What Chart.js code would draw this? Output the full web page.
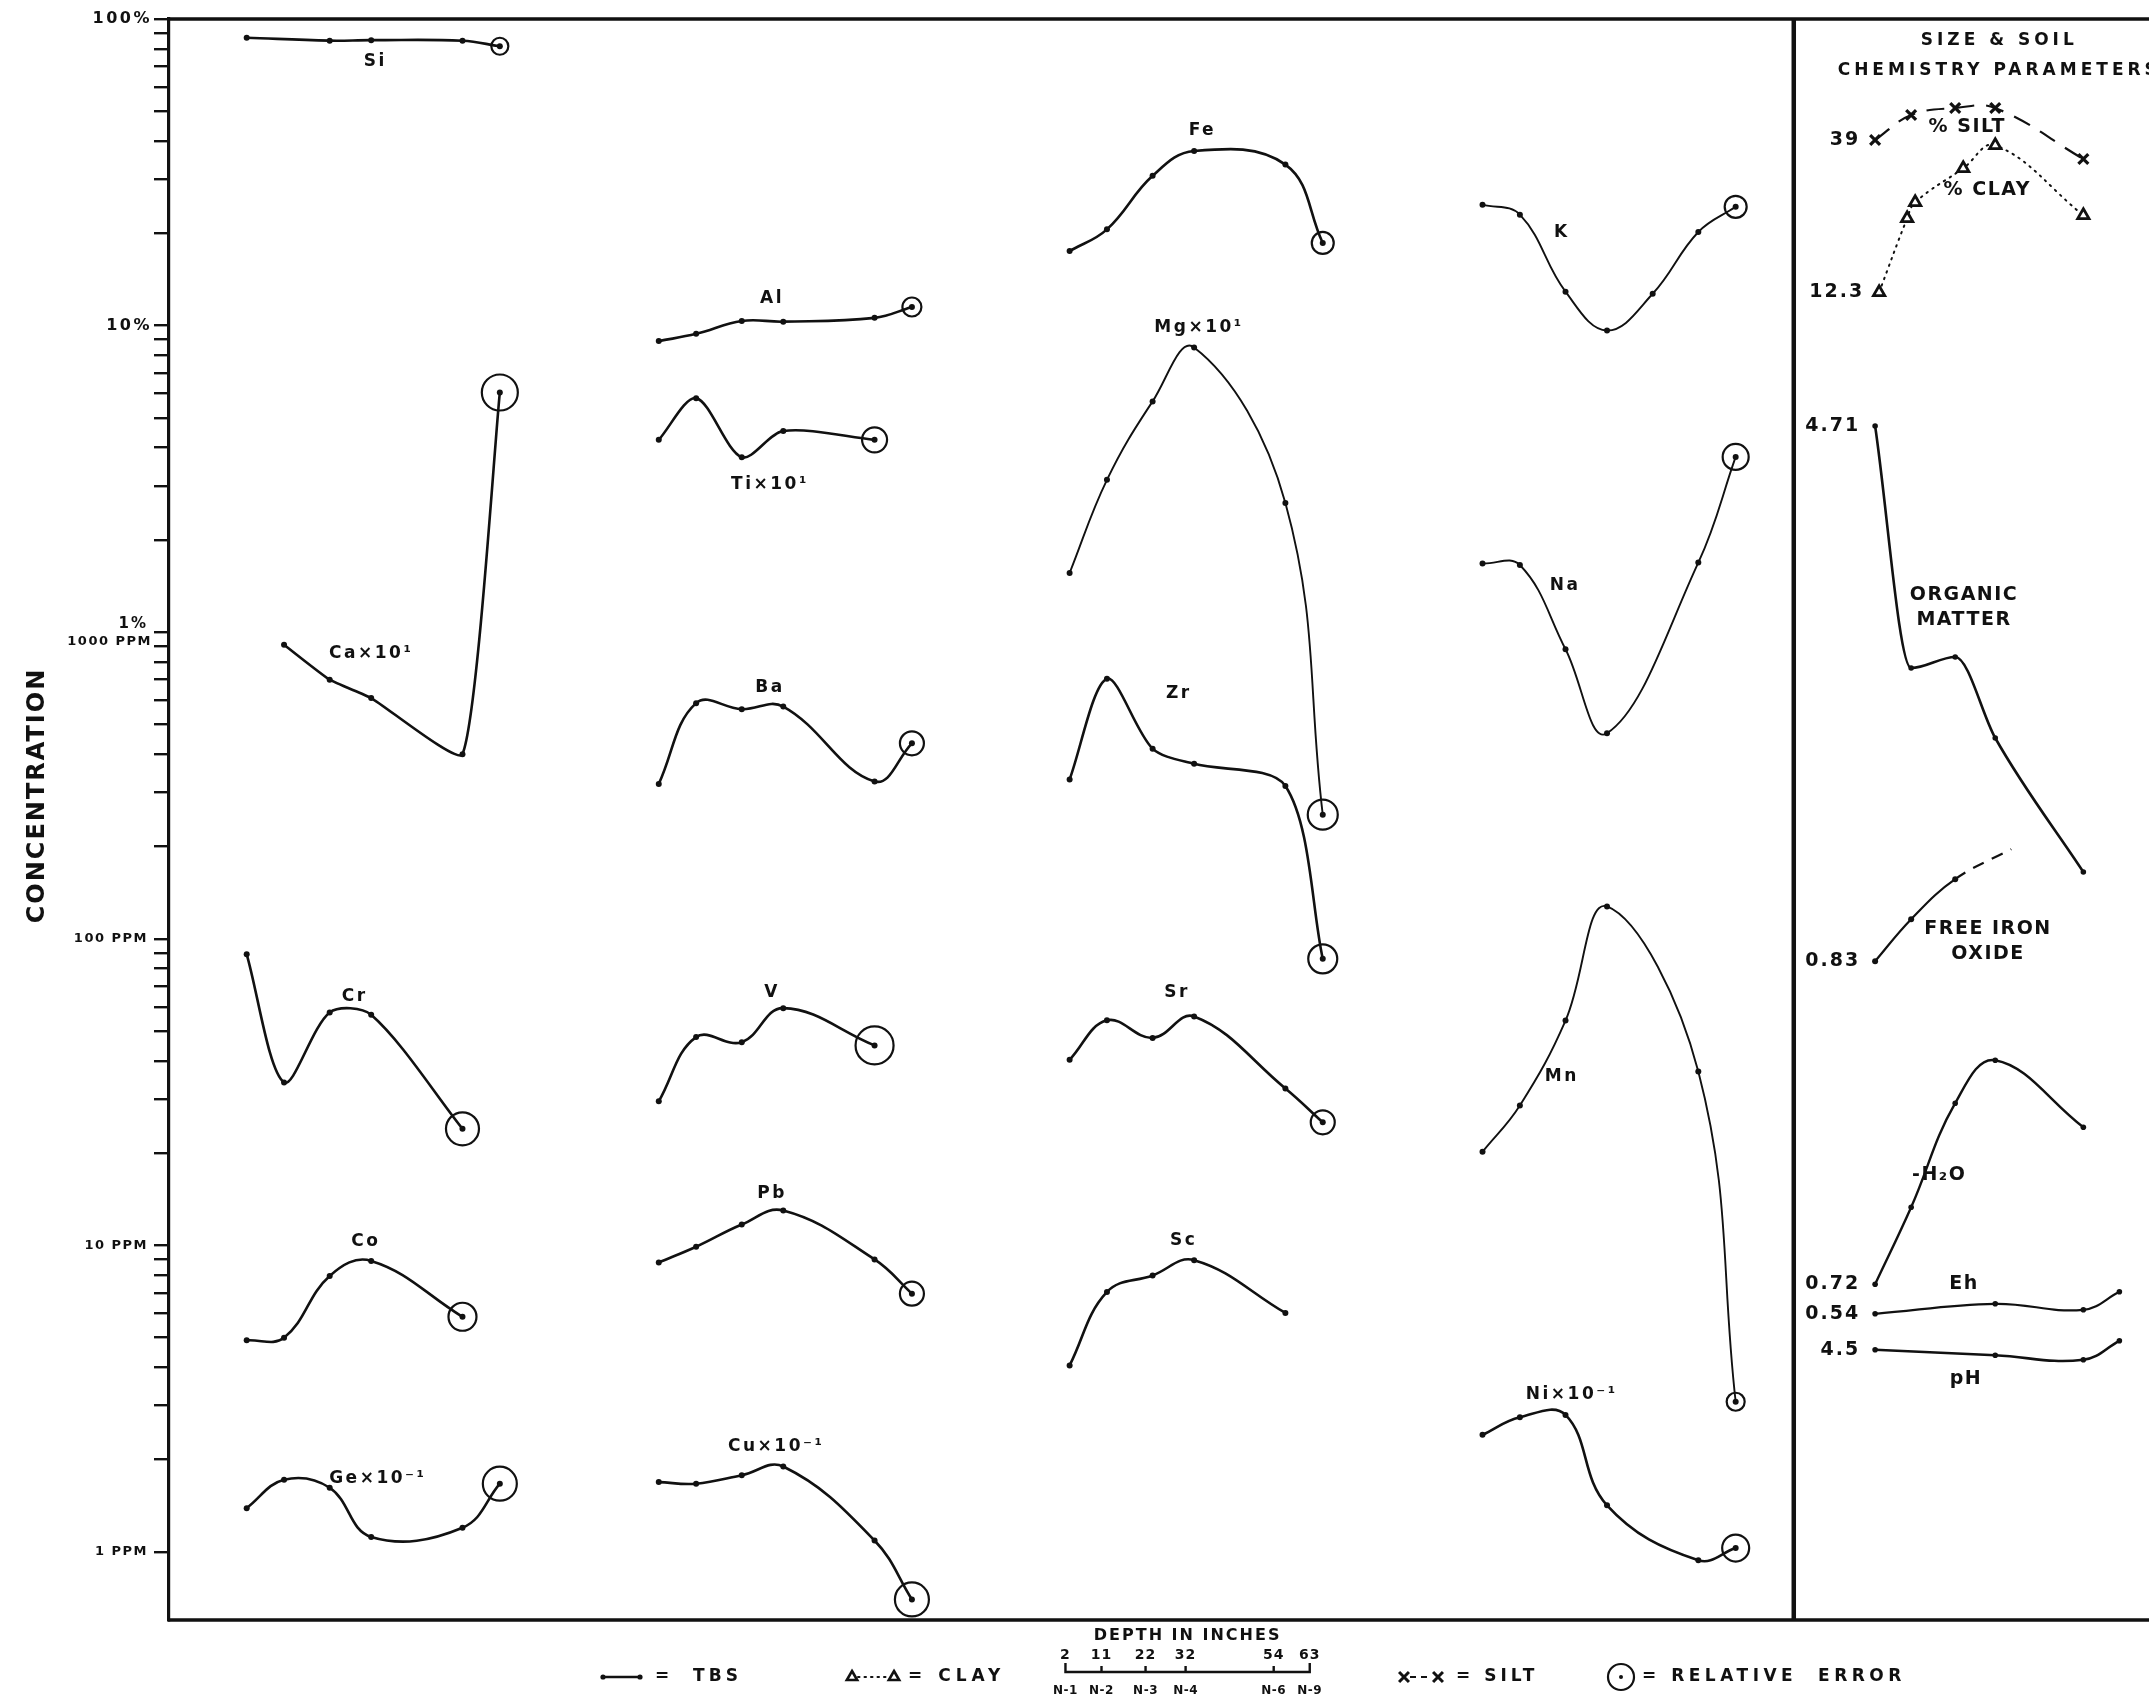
<!DOCTYPE html>
<html>
<head>
<meta charset="utf-8">
<title>Concentration vs depth</title>
<script src="https://cdn.jsdelivr.net/npm/chart.js@4.4.0/dist/chart.umd.min.js"></script>
<style>
  html, body { margin: 0; padding: 0; background: #fff; overflow: hidden; }
  canvas { display: block; }
</style>
</head>
<body>
<canvas id="depthChart" width="2149" height="1705"></canvas>
<script>
const INK = '#111';
const FACE = '"DejaVu Sans", "Liberation Sans", sans-serif';

// depth of the sampled horizons (inches) and their ids
const depthScale = [2, 11, 22, 32, 54, 63];
const horizonIds = ['N-1', 'N-2', 'N-3', 'N-4', 'N-6', 'N-9'];
const fivePoint = [2, 11, 22, 32, 54];

// y axis tick labels (axis units: 1 = 1 PPM, 1000 = 1%)
const tickMantissas = [1, 2, 3, 4, 5, 6, 7, 8, 9];
const tickDecades = [1, 10, 100, 1000, 10000];
const decadeLabels = [
    [1, '1 PPM'], [10, '10 PPM'], [100, '100 PPM'],
    [1000, ['1%', '1000 PPM']], [10000, '10%'], [100000, '100%']
];

// element profiles, as plotted (label multiplier already applied)
// column 1
const siDepths = [2, 22, 32, 54, 63];
const siPct = [86.9, 85.0, 85.3, 84.9, 81.5];
const caDepths = [11, 22, 32, 54, 63];
const caX10Pct = [0.91, 0.70, 0.61, 0.40, 6.05];
const crPpm = [89, 34, 57.5, 56.5, 24];
const coPpm = [4.9, 5.0, 7.95, 8.9, 5.85];
const geX01Ppm = [1.39, 1.72, 1.62, 1.12, 1.2, 1.67];
// column 2
const alPct = [8.9, 9.4, 10.35, 10.3, 10.6, 11.5];
const tiX10Pct = [4.24, 5.8, 3.72, 4.53, 4.24];
const baPpm = [320, 587, 561, 572, 326, 434];
const vPpm = [29.5, 47.8, 46, 59.4, 44.9];
const pbPpm = [8.8, 9.9, 11.7, 13.0, 9.0, 6.96];
const cuX01Ppm = [1.69, 1.67, 1.78, 1.9, 1.09, 0.70];
// column 3
const fePct = [17.5, 20.6, 30.8, 37.1, 33.5, 18.6];
const mgX10Pct = [1.56, 3.14, 5.66, 8.49, 2.64, 0.254];
const zrPpm = [331, 705, 417, 372, 315, 86];
const srPpm = [40.3, 54.2, 47.5, 55.8, 32.5, 25.2];
const scPpm = [4.06, 7.05, 7.98, 8.95, 6.02];
// column 4
const kDepths = [2, 11, 22, 32, 43, 54, 63];
const kPct = [24.8, 23.0, 12.9, 9.64, 12.7, 20.2, 24.4];
const naPct = [1.675, 1.656, 0.88, 0.468, 1.687, 3.73];
const mnPpm = [20.2, 28.6, 54.1, 127.5, 36.9, 3.09];
const niX01Ppm = [2.41, 2.75, 2.80, 1.42, 0.94, 1.03];

// relative error of the deepest analysis (drawn as ring size)
const relError = {
    Si: 8.5, Ca: 18, Cr: 16.5, Co: 14, Ge: 17,
    Al: 9.5, Ti: 12.5, Ba: 12, V: 19, Pb: 12, Cu: 17,
    Fe: 11, Mg: 15, Zr: 14.5, Sr: 12,
    K: 11, Na: 13, Mn: 9, Ni: 13.5
};

// size & soil chemistry parameters
const siltDepths = [2, 11, 22, 32, 54];
const siltPct = [39, 41.5, 42.2, 42.2, 37.1];
const clayDepths = [3, 10, 12, 24, 32, 54];
const clayPct = [12.3, 19.7, 21.3, 24.7, 27.0, 20.0];
const organicPct = [4.71, 2.29, 2.40, 1.59, 0.25];
const ironOxDepths = [2, 11, 22, 36];
const ironOxPct = [0.83, 1.04, 1.24, 1.39];
const waterPct = [0.72, 1.49, 2.53, 2.96, 2.29];
const ehDepths = [2, 32, 54, 63];
const ehVolts = [0.54, 0.59, 0.56, 0.65];
const phValues = [4.5, 4.39, 4.30, 4.68];

const PCT_TO_AXIS = 1000; // the sheet puts 1% on the 1000 PPM line
const toAxis = (v, unit) => unit === '%' ? v * PCT_TO_AXIS : v;

// element table: [key, label, column, unit, depths, values]
const elements = [
    ['Si', 'Si', 0, '%', siDepths, siPct],
    ['Ca', 'Ca×10¹', 0, '%', caDepths, caX10Pct],
    ['Cr', 'Cr', 0, 'ppm', fivePoint, crPpm],
    ['Co', 'Co', 0, 'ppm', fivePoint, coPpm],
    ['Ge', 'Ge×10⁻¹', 0, 'ppm', depthScale, geX01Ppm],
    ['Al', 'Al', 1, '%', depthScale, alPct],
    ['Ti', 'Ti×10¹', 1, '%', fivePoint, tiX10Pct],
    ['Ba', 'Ba', 1, 'ppm', depthScale, baPpm],
    ['V', 'V', 1, 'ppm', fivePoint, vPpm],
    ['Pb', 'Pb', 1, 'ppm', depthScale, pbPpm],
    ['Cu', 'Cu×10⁻¹', 1, 'ppm', depthScale, cuX01Ppm],
    ['Fe', 'Fe', 2, '%', depthScale, fePct],
    ['Mg', 'Mg×10¹', 2, '%', depthScale, mgX10Pct],
    ['Zr', 'Zr', 2, 'ppm', depthScale, zrPpm],
    ['Sr', 'Sr', 2, 'ppm', depthScale, srPpm],
    ['Sc', 'Sc', 2, 'ppm', fivePoint, scPpm],
    ['K', 'K', 3, '%', kDepths, kPct],
    ['Na', 'Na', 3, '%', depthScale, naPct],
    ['Mn', 'Mn', 3, 'ppm', depthScale, mnPpm],
    ['Ni', 'Ni×10⁻¹', 3, 'ppm', depthScale, niX01Ppm]
];

// where each element name sits: [depth, axis value]
const labelSpots = {
    Si: [33, 72800], Ca: [32, 854], Cr: [28, 64.6], Co: [30.7, 10.3], Ge: [33.6, 1.73],
    Al: [29.3, 12270], Ti: [28.8, 3035], Ba: [28.8, 662], V: [29.3, 67], Pb: [29.3, 14.8], Cu: [30.3, 2.2],
    Fe: [34, 43350], Mg: [33.2, 9860], Zr: [28.3, 632], Sr: [27.9, 67], Sc: [29.5, 10.4],
    K: [21.1, 20140], Na: [21.9, 1423], Mn: [21.1, 35.4], Ni: [23.5, 3.25]
};
const thinLines = ['Mg', 'Na', 'K', 'Mn'];
const tensionOf = { Ca: 0.15, Ti: 0.3, Zr: 0.3, Cr: 0.3 };

// horizontal layout of the sheet: columns are placed side by side
const columnStart = [2, 101.3, 200.3, 299.8, 394.4];
const columnStretch = [1, 1, 1, 1, 0.965];
const dividerAt = 374.8;
const xOf = (col, d) => columnStart[col] + (d - 2) * columnStretch[col];

const datasets = [];
elements.forEach(([key, label, col, unit, depths, values]) => {
    datasets.push({
        label: key,
        data: depths.map((d, i) => ({ x: xOf(col, d), y: toAxis(values[i], unit) })),
        yAxisID: 'y',
        borderColor: INK,
        borderWidth: thinLines.includes(key) ? 1.9 : 2.6,
        tension: tensionOf[key] ?? 0.4,
        pointRadius: 3,
        pointBackgroundColor: INK,
        pointBorderWidth: 0
    });
});

const rings = elements.filter(e => relError[e[0]]);
datasets.push({
    label: 'relative error',
    data: rings.map(([key, label, col, unit, depths, values]) => {
        const i = depths.length - 1;
        return { x: xOf(col, depths[i]), y: toAxis(values[i], unit) };
    }),
    yAxisID: 'y',
    showLine: false,
    pointRadius: rings.map(e => relError[e[0]]),
    pointBackgroundColor: 'rgba(0,0,0,0)',
    pointBorderColor: INK,
    pointBorderWidth: 2.2
});

// parameter table: [key, axis, depths, values, name, name spot]
const params = [
    ['silt', 'ySilt', siltDepths, siltPct, '% SILT', [25, 40.3]],
    ['clay', 'yClay', clayDepths, clayPct, '% CLAY', [30, 22.5]],
    ['om', 'yOrg', fivePoint, organicPct, ['ORGANIC', 'MATTER'], [24.2, 2.89]],
    ['feox', 'yFeOx', ironOxDepths, ironOxPct, ['FREE IRON', 'OXIDE'], [30.2, 0.93]],
    ['h2o', 'yH2O', fivePoint, waterPct, '-H₂O', [18, 1.81]],
    ['eh', 'yEh', ehDepths, ehVolts, 'Eh', [24.2, 0.689]],
    ['ph', 'yPH', ehDepths, phValues, 'pH', [24.7, 3.92]]
];
const paramStyle = {
    silt: { borderDash: [18, 12], borderWidth: 2.2, pointStyle: 'crossRot', pointRadius: 7, pointBorderWidth: 3.2 },
    clay: { borderDash: [1.5, 5.5], borderWidth: 2, borderCapStyle: 'round', pointStyle: 'triangle', pointRadius: 6.5, pointBorderWidth: 2.8, pointBackgroundColor: '#fff' },
    om: { borderWidth: 2.6, cubicInterpolationMode: 'monotone' },
    feox: { borderWidth: 2.2, pointRadius: [3, 3, 3, 0],
            segment: { borderDash: ctx => ctx.p1DataIndex === ironOxPct.length - 1 ? [12, 9] : undefined } },
    h2o: { borderWidth: 2.4 },
    eh: { borderWidth: 2.2 },
    ph: { borderWidth: 2.6 }
};
params.forEach(([key, axis, depths, values]) => {
    datasets.push(Object.assign({
        label: key,
        data: depths.map((d, i) => ({ x: xOf(4, d), y: values[i] })),
        yAxisID: axis,
        borderColor: INK,
        tension: 0.4,
        pointRadius: 2.8,
        pointBackgroundColor: INK,
        pointBorderColor: INK,
        pointBorderWidth: 0
    }, paramStyle[key]));
});

function drawText(ctx, str, x, y, font, align, spacing) {
    ctx.save();
    ctx.font = font;
    ctx.fillStyle = INK;
    ctx.textAlign = align || 'center';
    ctx.textBaseline = 'middle';
    if ('letterSpacing' in ctx) ctx.letterSpacing = (spacing || 0) + 'px';
    ctx.fillText(str, x, y);
    ctx.restore();
}

const sheetPlugin = {
    id: 'sheet',
    afterDraw(chart) {
        const ctx = chart.ctx;
        const area = chart.chartArea;
        const xs = chart.scales.x;
        const ys = chart.scales.y;

        // frame: top and bottom rules, panel divider
        ctx.save();
        ctx.strokeStyle = INK;
        ctx.lineWidth = 3.4;
        ctx.beginPath();
        ctx.moveTo(area.left - 1, area.top); ctx.lineTo(chart.width, area.top);
        ctx.moveTo(area.left - 1, area.bottom); ctx.lineTo(chart.width, area.bottom);
        ctx.stroke();
        ctx.lineWidth = 4.5;
        const dx = xs.getPixelForValue(dividerAt);
        ctx.beginPath();
        ctx.moveTo(dx, area.top); ctx.lineTo(dx, area.bottom);
        ctx.stroke();
        ctx.restore();

        // y tick labels
        const lx = area.left - 21;
        decadeLabels.forEach(([v, text]) => {
            const py = ys.getPixelForValue(v);
            if (Array.isArray(text)) {
                drawText(ctx, text[0], lx, py - 8, 'bold 15px ' + FACE, 'right', 2);
                drawText(ctx, text[1], lx + 4, py + 9, 'bold 13px ' + FACE, 'right', 1.5);
            } else if (text.includes('%')) {
                drawText(ctx, text, lx + 4, py, 'bold 16px ' + FACE, 'right', 2.5);
            } else {
                drawText(ctx, text, lx, py, 'bold 13px ' + FACE, 'right', 1.5);
            }
        });

        // axis title
        ctx.save();
        ctx.translate(38, (area.top + area.bottom) / 2 - 24);
        ctx.rotate(-Math.PI / 2);
        drawText(ctx, 'CONCENTRATION', 0, 0, 'bold 24px ' + FACE, 'center', 2);
        ctx.restore();

        // element names
        elements.forEach(([key, label, col]) => {
            const [d, v] = labelSpots[key];
            drawText(ctx, label, xs.getPixelForValue(xOf(col, d)), ys.getPixelForValue(v),
                'bold 17px ' + FACE, 'center', 2.5);
        });

        // right panel
        const hx = xs.getPixelForValue(xOf(4, 33));
        drawText(ctx, 'SIZE & SOIL', hx, area.top + 22, 'bold 17px ' + FACE, 'center', 4);
        drawText(ctx, 'CHEMISTRY PARAMETERS', hx, area.top + 52, 'bold 17px ' + FACE, 'center', 4);
        params.forEach(([key, axis, depths, values, name, spot], i) => {
            const meta = chart.getDatasetMeta(elements.length + 1 + i);
            const p0 = meta.data[0];
            drawText(ctx, String(values[0]), p0.x - 15, p0.y, 'bold 19px ' + FACE, 'right', 2);
            const sy = chart.scales[axis];
            const nx = xs.getPixelForValue(xOf(4, spot[0]));
            const ny = sy.getPixelForValue(spot[1]);
            const lines = Array.isArray(name) ? name : [name];
            lines.forEach((t, j) => {
                drawText(ctx, t, nx, ny + (j - (lines.length - 1) / 2) * 25, 'bold 19px ' + FACE, 'center', 1.5);
            });
        });

        // legend strip
        const ly = area.bottom + 57;
        const legendFont = 'bold 17px ' + FACE;
        ctx.save();
        ctx.strokeStyle = INK; ctx.fillStyle = INK;
        ctx.lineWidth = 2.4;
        ctx.beginPath(); ctx.moveTo(603, ly); ctx.lineTo(640, ly); ctx.stroke();
        [603, 640].forEach(x => { ctx.beginPath(); ctx.arc(x, ly, 2.6, 0, Math.PI * 2); ctx.fill(); });
        ctx.restore();
        drawText(ctx, '=  TBS', 655, ly, legendFont, 'left', 4);

        ctx.save();
        ctx.strokeStyle = INK; ctx.fillStyle = '#fff';
        ctx.lineWidth = 2; ctx.lineCap = 'round'; ctx.setLineDash([1.5, 5]);
        ctx.beginPath(); ctx.moveTo(858, ly); ctx.lineTo(888, ly); ctx.stroke();
        ctx.setLineDash([]); ctx.lineWidth = 2.6;
        [852, 894].forEach(x => Chart.helpers.drawPoint(ctx, { pointStyle: 'triangle', radius: 6, borderWidth: 2.6 }, x, ly));
        ctx.restore();
        drawText(ctx, '= CLAY', 908, ly, legendFont, 'left', 5);

        ctx.save();
        ctx.strokeStyle = INK; ctx.lineWidth = 2.2; ctx.setLineDash([6, 5]);
        ctx.beginPath(); ctx.moveTo(1410, ly); ctx.lineTo(1432, ly); ctx.stroke();
        ctx.setLineDash([]); ctx.lineWidth = 3;
        [1404, 1438].forEach(x => Chart.helpers.drawPoint(ctx, { pointStyle: 'crossRot', radius: 7, borderWidth: 3 }, x, ly));
        ctx.restore();
        drawText(ctx, '= SILT', 1456, ly, legendFont, 'left', 4);

        ctx.save();
        ctx.strokeStyle = INK; ctx.fillStyle = INK; ctx.lineWidth = 2.2;
        ctx.beginPath(); ctx.arc(1621, ly, 13, 0, Math.PI * 2); ctx.stroke();
        ctx.beginPath(); ctx.arc(1621, ly, 2, 0, Math.PI * 2); ctx.fill();
        ctx.restore();
        drawText(ctx, '= RELATIVE  ERROR', 1642, ly, legendFont, 'left', 4.5);

        // depth key, drawn on the x scale under column 3
        const kx = d => xs.getPixelForValue(columnStart[2] - 1 + (d - 2) * 0.965);
        const kMid = (kx(depthScale[0]) + kx(depthScale[depthScale.length - 1])) / 2;
        drawText(ctx, 'DEPTH IN INCHES', kMid, area.bottom + 16, 'bold 16px ' + FACE, 'center', 2);
        ctx.save();
        ctx.strokeStyle = INK; ctx.lineWidth = 2.4;
        ctx.beginPath();
        const ky = area.bottom + 52;
        ctx.moveTo(kx(depthScale[0]), ky - 9); ctx.lineTo(kx(depthScale[0]), ky);
        ctx.lineTo(kx(depthScale[depthScale.length - 1]), ky);
        ctx.lineTo(kx(depthScale[depthScale.length - 1]), ky - 9);
        depthScale.slice(1, -1).forEach(d => { ctx.moveTo(kx(d), ky); ctx.lineTo(kx(d), ky - 6); });
        ctx.stroke();
        ctx.restore();
        depthScale.forEach((d, i) => {
            drawText(ctx, String(d), kx(d), area.bottom + 35, 'bold 14px ' + FACE, 'center', 1);
            drawText(ctx, horizonIds[i], kx(d), area.bottom + 71, 'bold 12px ' + FACE, 'center', 0.5);
        });
    }
};

const ctx = document.getElementById('depthChart').getContext('2d');
const depthChart = new Chart(ctx, {
    type: 'line',
    data: { datasets: datasets },
    options: {
        responsive: false,
        animation: false,
        events: [],
        layout: { autoPadding: false, padding: { top: 19, bottom: 85, left: 0, right: 0 } },
        plugins: { legend: { display: false }, tooltip: { enabled: false } },
        scales: {
            x: { type: 'linear', display: false, min: -16.72, max: 460.4 },
            y: {
                type: 'logarithmic',
                min: 0.61,
                max: 100000,
                afterBuildTicks: (scale) => {
                    const t = [];
                    tickDecades.forEach(d => tickMantissas.forEach(m => t.push({ value: m * d })));
                    t.push({ value: 100000 });
                    scale.ticks = t;
                },
                afterFit: (scale) => { scale.width = 169; },
                ticks: { display: false },
                grid: { drawOnChartArea: false, drawTicks: true, tickLength: 15, color: INK, lineWidth: 2.4 },
                border: { display: true, color: INK, width: 3.2 }
            },
            ySilt: { type: 'linear', display: false, min: -109, max: 51.1 },
            yClay: { type: 'linear', display: false, min: -120.47, max: 39.63 },
            yOrg: { type: 'linear', display: false, min: -7.23, max: 8.78 },
            yFeOx: { type: 'linear', display: false, min: -2.4645, max: 5.541 },
            yH2O: { type: 'linear', display: false, min: -2.638, max: 13.372 },
            yEh: { type: 'linear', display: false, min: -0.991, max: 7.014 },
            yPH: { type: 'linear', display: false, min: -0.904, max: 31.116 }
        }
    },
    plugins: [sheetPlugin]
});
</script>
</body>
</html>
